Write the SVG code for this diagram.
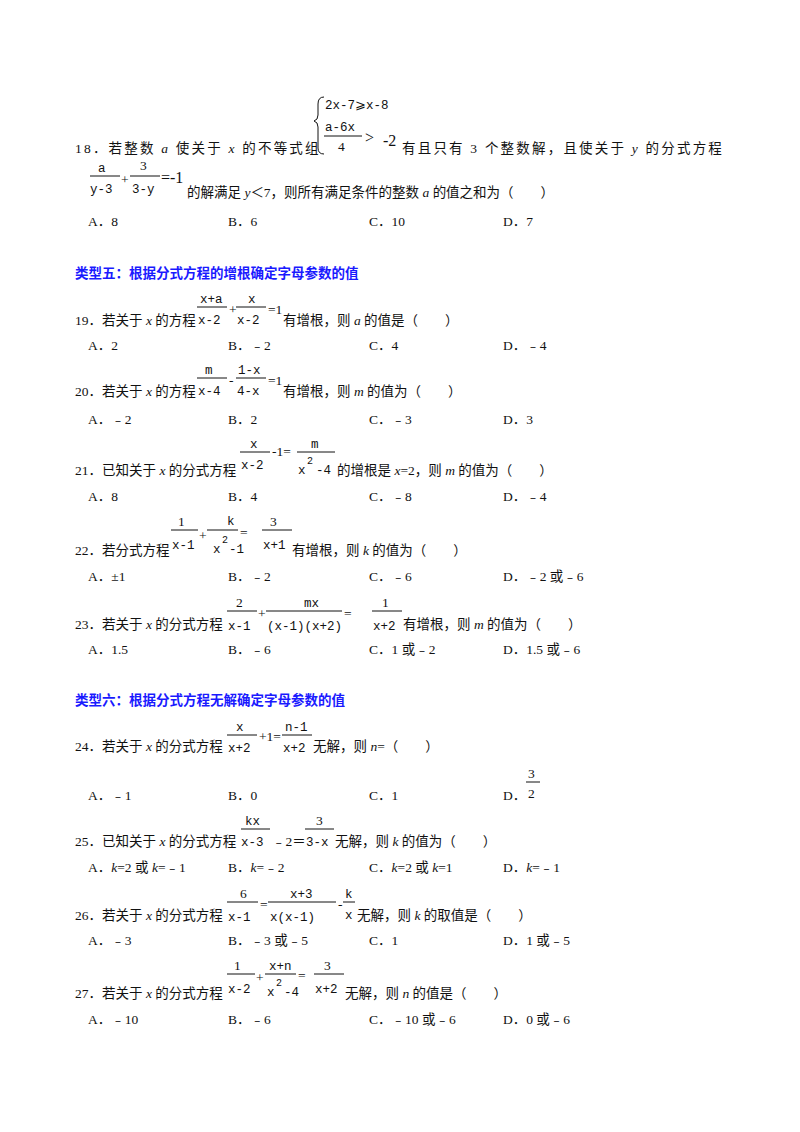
<svg xmlns="http://www.w3.org/2000/svg" width="800" height="1132" viewBox="0 0 800 1132">
<style>
text{font-family:"Liberation Serif","Noto Sans CJK SC",serif;font-size:13.5px;fill:#111}
.m{font-family:"Liberation Mono","DejaVu Sans Mono",monospace;font-size:12.5px}
.s{font-size:10px}
.b{font-size:16px}
.h{font-family:"Noto Sans CJK SC",sans-serif;font-weight:bold;fill:#1a1aff;font-size:13.5px}
.i{font-style:italic}
.w{letter-spacing:2.2px}
line{stroke:#111;stroke-width:1}
</style>
<rect width="800" height="1132" fill="#fff"/>
<!-- 18 -->
<path d="M324 97 Q318 97 318 104 L318 115 Q318 120 314 121 Q318 122 318 127 L318 148 Q318 154 324 154" fill="none" stroke="#111"/>
<text class="m" x="325" y="109">2x-7⩾x-8</text>
<text class="m" x="325" y="131">a-6x</text>
<line x1="324" y1="136" x2="362" y2="136"/>
<text x="338" y="151">4</text>
<text class="b" x="365" y="143">&gt;</text><text class="b" x="383" y="146">-2</text>
<text class="w" x="75" y="153">18．若整数 <tspan class="i">a</tspan> 使关于 <tspan class="i">x</tspan> 的不等式组</text>
<text class="w" x="402" y="153">有且只有 3 个整数解，且使关于 <tspan class="i">y</tspan> 的分式方程</text>
<text class="m" x="98" y="172">a</text><line x1="90" y1="176" x2="120" y2="176"/><text class="m" x="90" y="193">y-3</text>
<text x="121" y="184">+</text>
<text x="140" y="170">3</text><line x1="130" y1="176" x2="160" y2="176"/><text class="m" x="132" y="193">3-y</text>
<text class="b" x="161" y="183">=-1</text>
<text x="187" y="197">的解满足 <tspan class="i">y</tspan>＜7，则所有满足条件的整数 <tspan class="i">a</tspan> 的值之和为（　　）</text>
<text x="88" y="226">A．8</text><text x="228" y="226">B．6</text><text x="369" y="226">C．10</text><text x="503" y="226">D．7</text>
<!-- 类型五 -->
<text class="h" x="75" y="278">类型五：根据分式方程的增根确定字母参数的值</text>
<!-- 19 -->
<text class="m" x="200" y="303">x+a</text><line x1="197" y1="307" x2="227" y2="307"/><text class="m" x="198" y="324">x-2</text>
<text x="229" y="314">+</text>
<text class="m" x="248" y="303">x</text><line x1="236" y1="307" x2="266" y2="307"/><text class="m" x="237" y="324">x-2</text>
<text x="268" y="314">=1</text>
<text x="75" y="325">19．若关于 <tspan class="i">x</tspan> 的方程</text>
<text x="283" y="325">有增根，则 <tspan class="i">a</tspan> 的值是（　　）</text>
<text x="88" y="350">A．2</text><text x="228" y="350">B．﹣2</text><text x="369" y="350">C．4</text><text x="503" y="350">D．﹣4</text>
<!-- 20 -->
<text class="m" x="205" y="374">m</text><line x1="197" y1="378" x2="227" y2="378"/><text class="m" x="198" y="395">x-4</text>
<text x="229" y="385">-</text>
<text class="m" x="238" y="374">1-x</text><line x1="236" y1="378" x2="266" y2="378"/><text class="m" x="237" y="395">4-x</text>
<text x="268" y="385">=1</text>
<text x="75" y="396">20．若关于 <tspan class="i">x</tspan> 的方程</text>
<text x="283" y="396">有增根，则 <tspan class="i">m</tspan> 的值为（　　）</text>
<text x="88" y="424">A．﹣2</text><text x="228" y="424">B．2</text><text x="369" y="424">C．﹣3</text><text x="503" y="424">D．3</text>
<!-- 21 -->
<text class="m" x="250" y="448">x</text><line x1="240" y1="452" x2="270" y2="452"/><text class="m" x="241" y="469">x-2</text>
<text x="272" y="456">-1=</text>
<line x1="297" y1="452" x2="335" y2="452"/><text class="m" x="311" y="448">m</text>
<text class="m" x="298" y="474">x</text><text class="m s" x="307" y="464">2</text><text class="m" x="316" y="474">-4</text>
<text x="75" y="475">21．已知关于 <tspan class="i">x</tspan> 的分式方程</text>
<text x="337" y="475">的增根是 <tspan class="i">x</tspan>=2，则 <tspan class="i">m</tspan> 的值为（　　）</text>
<text x="88" y="501">A．8</text><text x="228" y="501">B．4</text><text x="369" y="501">C．﹣8</text><text x="503" y="501">D．﹣4</text>
<!-- 22 -->
<text x="178" y="526">1</text><line x1="171" y1="530" x2="198" y2="530"/><text class="m" x="172" y="549">x-1</text>
<text x="199" y="540">+</text>
<text class="m" x="227" y="525">k</text><line x1="207" y1="530" x2="238" y2="530"/>
<text class="m" x="213" y="553">x</text><text class="m s" x="222" y="543">2</text><text class="m" x="229" y="553">-1</text>
<text x="240" y="537">=</text>
<text x="270" y="526">3</text><line x1="262" y1="530" x2="292" y2="530"/><text class="m" x="263" y="549">x+1</text>
<text x="75" y="555">22．若分式方程</text>
<text x="292" y="555">有增根，则 <tspan class="i">k</tspan> 的值为（　　）</text>
<text x="88" y="581">A．±1</text><text x="228" y="581">B．﹣2</text><text x="369" y="581">C．﹣6</text><text x="503" y="581">D．﹣2 或﹣6</text>
<!-- 23 -->
<text x="236" y="607">2</text><line x1="227" y1="611" x2="257" y2="611"/><text class="m" x="228" y="630">x-1</text>
<text x="258" y="618">+</text>
<text class="m" x="304" y="607">mx</text><line x1="266" y1="611" x2="342" y2="611"/><text class="m" x="267" y="630">(x-1)(x+2)</text>
<text x="344" y="618">=</text>
<text x="382" y="607">1</text><line x1="372" y1="611" x2="402" y2="611"/><text class="m" x="373" y="630">x+2</text>
<text x="75" y="629">23．若关于 <tspan class="i">x</tspan> 的分式方程</text>
<text x="403" y="629">有增根，则 <tspan class="i">m</tspan> 的值为（　　）</text>
<text x="88" y="654">A．1.5</text><text x="228" y="654">B．﹣6</text><text x="369" y="654">C．1 或﹣2</text><text x="503" y="654">D．1.5 或﹣6</text>
<!-- 类型六 -->
<text class="h" x="75" y="705">类型六：根据分式方程无解确定字母参数的值</text>
<!-- 24 -->
<text class="m" x="236" y="731">x</text><line x1="227" y1="735" x2="257" y2="735"/><text class="m" x="228" y="752">x+2</text>
<text x="259" y="741">+1=</text>
<text class="m" x="285" y="731">n-1</text><line x1="282" y1="735" x2="312" y2="735"/><text class="m" x="283" y="752">x+2</text>
<text x="75" y="751">24．若关于 <tspan class="i">x</tspan> 的分式方程</text>
<text x="313" y="751">无解，则 <tspan class="i">n</tspan>=（　　）</text>
<text x="88" y="800">A．﹣1</text><text x="228" y="800">B．0</text><text x="369" y="800">C．1</text><text x="503" y="800">D．</text>
<text x="528" y="778">3</text><line x1="526" y1="782" x2="540" y2="782"/><text x="528" y="798">2</text>
<!-- 25 -->
<text class="m" x="245" y="825">kx</text><line x1="241" y1="829" x2="270" y2="829"/><text class="m" x="241" y="846">x-3</text>
<text x="272" y="846">﹣2＝</text>
<text x="316" y="825">3</text><line x1="305" y1="829" x2="334" y2="829"/><text class="m" x="306" y="846">3-x</text>
<text x="75" y="846">25．已知关于 <tspan class="i">x</tspan> 的分式方程</text>
<text x="335" y="846">无解，则 <tspan class="i">k</tspan> 的值为（　　）</text>
<text x="88" y="872">A．<tspan class="i">k</tspan>=2 或 <tspan class="i">k</tspan>=﹣1</text><text x="228" y="872">B．<tspan class="i">k</tspan>=﹣2</text><text x="369" y="872">C．<tspan class="i">k</tspan>=2 或 <tspan class="i">k</tspan>=1</text><text x="503" y="872">D．<tspan class="i">k</tspan>=﹣1</text>
<!-- 26 -->
<text x="240" y="898">6</text><line x1="227" y1="902" x2="258" y2="902"/><text class="m" x="228" y="921">x-1</text>
<text x="260" y="909">=</text>
<text class="m" x="290" y="898">x+3</text><line x1="268" y1="902" x2="336" y2="902"/><text class="m" x="270" y="921">x(x-1)</text>
<text x="338" y="909">-</text>
<text class="m" x="345" y="898">k</text><line x1="343" y1="902" x2="355" y2="902"/><text class="m" x="345" y="919">x</text>
<text x="75" y="920">26．若关于 <tspan class="i">x</tspan> 的分式方程</text>
<text x="357" y="920">无解，则 <tspan class="i">k</tspan> 的取值是（　　）</text>
<text x="88" y="945">A．﹣3</text><text x="228" y="945">B．﹣3 或﹣5</text><text x="369" y="945">C．1</text><text x="503" y="945">D．1 或﹣5</text>
<!-- 27 -->
<text x="234" y="970">1</text><line x1="227" y1="974" x2="255" y2="974"/><text class="m" x="228" y="993">x-2</text>
<text x="256" y="982">+</text>
<text class="m" x="269" y="970">x+n</text><line x1="265" y1="974" x2="296" y2="974"/>
<text class="m" x="267" y="996">x</text><text class="m s" x="276" y="986">2</text><text class="m" x="284" y="996">-4</text>
<text x="298" y="980">=</text>
<text x="324" y="970">3</text><line x1="314" y1="974" x2="344" y2="974"/><text class="m" x="315" y="993">x+2</text>
<text x="75" y="998">27．若关于 <tspan class="i">x</tspan> 的分式方程</text>
<text x="345" y="998">无解，则 <tspan class="i">n</tspan> 的值是（　　）</text>
<text x="88" y="1024">A．﹣10</text><text x="228" y="1024">B．﹣6</text><text x="369" y="1024">C．﹣10 或﹣6</text><text x="503" y="1024">D．0 或﹣6</text>
</svg>
